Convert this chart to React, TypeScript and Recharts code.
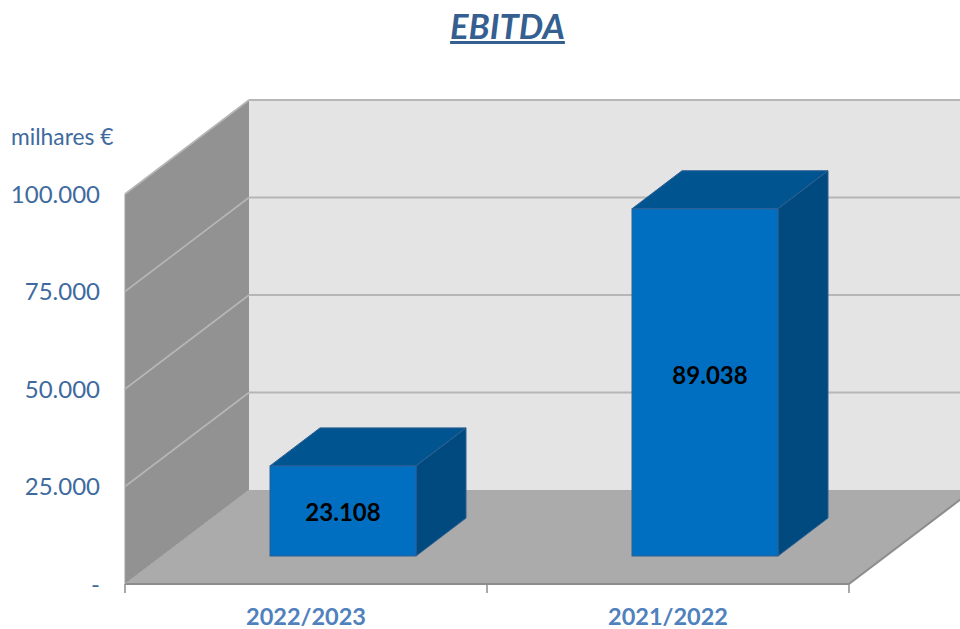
import React from "react";
import { BarChart, Bar, XAxis, YAxis, ReferenceArea, LabelList } from "recharts";

const categories = ["2022/2023", "2021/2022"];
const ebitdaValues = [23108, 89038];
const yTicks = [0, 25000, 50000, 75000, 100000];
const wallBands = [
  [75000, 100000],
  [50000, 75000],
  [25000, 50000],
  [0, 25000],
];

const rows = categories.map((period, i) => ({ period, ebitda: ebitdaValues[i] }));

const DEPTH_X = 124;
const DEPTH_Y = -94;
const BAR_SHIFT_X = 37;
const BAR_SHIFT_Y = -28;
const BAR_DEPTH_X = 50;
const BAR_DEPTH_Y = -38;
const FONT = "Lato, 'Open Sans', sans-serif";

const fmt = (v: number) =>
  v === 0 ? "-" : String(v).replace(/\B(?=(\d{3})+(?!\d))/g, ".");

const pts = (list: number[][]) => list.map((p) => p.join(",")).join(" ");

function WallBand(props: any) {
  const { x, y, width, height } = props;
  const yb = y + height;
  return (
    <g>
      <polygon
        points={pts([[x, yb], [x + DEPTH_X, yb + DEPTH_Y], [x + DEPTH_X, y + DEPTH_Y], [x, y]])}
        fill="#929292"
      />
      <rect x={x + DEPTH_X} y={y + DEPTH_Y} width={width} height={height} fill="#e4e4e4" />
      <line x1={x} y1={y} x2={x + DEPTH_X} y2={y + DEPTH_Y} stroke="#b6b6b6" strokeWidth={1.6} />
      <line x1={x + DEPTH_X} y1={y + DEPTH_Y} x2={x + DEPTH_X + width} y2={y + DEPTH_Y} stroke="#b6b6b6" strokeWidth={2} />
    </g>
  );
}

function Floor(props: any) {
  const { x, y, width, height } = props;
  const yb = y + height;
  const ticks = categories.map((_, i) => x + (width * i) / categories.length).concat(x + width);
  return (
    <g>
      <polygon
        points={pts([[x, yb], [x + width, yb], [x + width + DEPTH_X, yb + DEPTH_Y], [x + DEPTH_X, yb + DEPTH_Y]])}
        fill="#ababab"
      />
      <line x1={x} y1={yb} x2={x + width} y2={yb} stroke="#8c8c8c" strokeWidth={2} />
      <line x1={x + width} y1={yb} x2={x + width + DEPTH_X} y2={yb + DEPTH_Y} stroke="#8c8c8c" strokeWidth={2} />
      <line x1={x} y1={yb} x2={x + DEPTH_X} y2={yb + DEPTH_Y} stroke="#a6a6a6" strokeWidth={1} />
      <line x1={x} y1={y} x2={x} y2={yb} stroke="#a0a0a0" strokeWidth={1} />
      {ticks.map((t) => (
        <line key={t} x1={t} y1={yb} x2={t} y2={yb + 9} stroke="#8c8c8c" strokeWidth={1.5} />
      ))}
    </g>
  );
}

function Box(props: any) {
  const x = props.x + BAR_SHIFT_X;
  const y = props.y + BAR_SHIFT_Y;
  const { width, height } = props;
  const edge = "#2f5f92";
  return (
    <g>
      <polygon
        points={pts([[x, y], [x + width, y], [x + width + BAR_DEPTH_X, y + BAR_DEPTH_Y], [x + BAR_DEPTH_X, y + BAR_DEPTH_Y]])}
        fill="#005591"
        stroke={edge}
        strokeWidth={1}
      />
      <polygon
        points={pts([[x + width, y], [x + width + BAR_DEPTH_X, y + BAR_DEPTH_Y], [x + width + BAR_DEPTH_X, y + height + BAR_DEPTH_Y], [x + width, y + height]])}
        fill="#004a80"
        stroke={edge}
        strokeWidth={1}
      />
      <rect x={x} y={y} width={width} height={height} fill="#006fc1" stroke={edge} strokeWidth={1} />
    </g>
  );
}

function BoxLabel(props: any) {
  const { x, y, width, height, value, index } = props;
  // the two labels sit slightly off the face centre in the reference
  const nudgeX = index === 1 ? 5 : 0;
  const nudgeY = index === 1 ? -8 : 1;
  return (
    <text
      x={x + BAR_SHIFT_X + width / 2 + nudgeX}
      y={y + BAR_SHIFT_Y + height / 2 + nudgeY}
      textAnchor="middle"
      dominantBaseline="central"
      fontFamily={FONT}
      fontWeight={700}
      fontSize={24}
      fill="#000"
    >
      {fmt(value)}
    </text>
  );
}

export default function App() {
  return (
    <div style={{ position: "absolute", left: 0, top: 0, width: 960, height: 629, overflow: "hidden", background: "#fff", fontFamily: FONT }}>
      <div
        style={{
          position: "absolute", left: 0, width: 1015, top: 6, textAlign: "center",
          fontSize: 34.5, lineHeight: "40px", fontWeight: 700, fontStyle: "italic",
          textDecoration: "underline", textDecorationThickness: 3, color: "#365f91",
        }}
      >
        EBITDA
      </div>
      <div style={{ position: "absolute", left: 11, top: 123, fontSize: 22.8, lineHeight: "26px", color: "#3e6a9e" }}>
        milhares €
      </div>
      <BarChart
        width={960}
        height={629}
        data={rows}
        margin={{ top: 194, right: 111, bottom: 0, left: 0 }}
        barSize={146}
        style={{ position: "absolute", left: 0, top: 0 }}
      >
        {wallBands.map(([lo, hi]) => (
          <ReferenceArea key={hi} y1={lo} y2={hi} shape={<WallBand />} />
        ))}
        <ReferenceArea y1={0} y2={100000} shape={<Floor />} />
        <XAxis
          dataKey="period"
          height={45}
          axisLine={false}
          tickLine={false}
          tickMargin={18}
          tick={{ fontFamily: FONT, fontSize: 23.5, fontWeight: 700, fill: "#4f81bd" }}
        />
        <YAxis
          width={125}
          domain={[0, 100000]}
          ticks={yTicks}
          tickFormatter={fmt}
          axisLine={false}
          tickLine={false}
          tickMargin={19}
          tick={{ fontFamily: FONT, fontSize: 24, fill: "#3e6a9e" }}
        />
        <Bar dataKey="ebitda" isAnimationActive={false} shape={<Box />}>
          <LabelList dataKey="ebitda" content={<BoxLabel />} />
        </Bar>
      </BarChart>
    </div>
  );
}
